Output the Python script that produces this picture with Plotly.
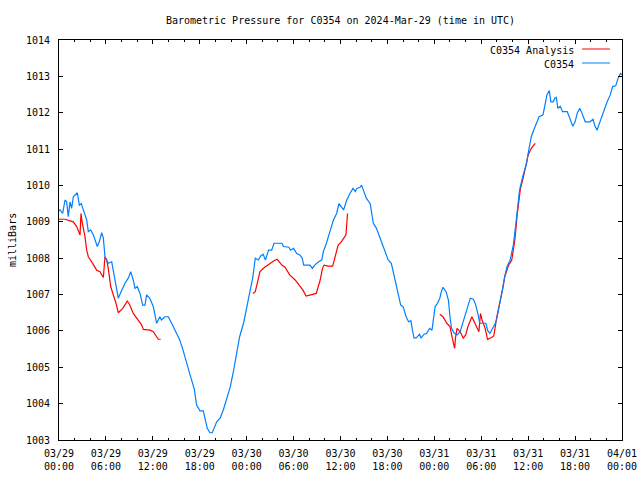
import datetime as dt
import plotly.graph_objects as go

TITLE = "Barometric Pressure for C0354 on 2024-Mar-29 (time in UTC)"
Y_TITLE = "milliBars"
START = dt.datetime(2024, 3, 29, 0, 0)

# hours since 2024-03-29 00:00 UTC, station observations
obs_hours = [
    0, 0.13, 0.47, 0.77, 0.98, 1.19, 1.41, 1.62, 1.83, 2.26,
    2.34, 2.6, 2.85, 3.11, 3.54, 3.75, 4.05, 4.39, 4.73, 4.9,
    5.15, 5.46, 5.67, 5.88, 6.1, 6.3, 6.74, 7.16, 7.58, 8.02,
    8.44, 8.86, 9.17, 9.5, 9.72, 10.01, 10.36, 10.7, 11.0, 11.2,
    11.6, 12.06, 12.49, 12.9, 13.1, 13.55, 13.98, 14.4, 15.05, 15.4,
    15.8, 16.2, 16.75, 17.3, 17.6, 18.03, 18.45, 18.96, 19.3, 19.6,
    19.82, 20.17, 20.6, 21.0, 21.4, 21.9, 22.3, 22.7, 23.1, 23.6,
    24.0, 24.4, 24.8, 25.1, 25.5, 25.8, 26.1, 26.4, 26.8, 27.2,
    27.5, 28.5, 28.7, 29.4, 29.6, 30.0, 30.4, 30.8, 31.1, 31.3,
    32.1, 32.4, 32.7, 33.2, 33.6, 33.8, 34.2, 34.7, 35.1, 35.5,
    35.8, 36.4, 36.8, 37.2, 37.6, 37.9, 38.1, 38.5, 38.7, 39.0,
    39.3, 39.8, 40.2, 40.6, 41.0, 41.4, 41.8, 42.1, 42.5, 43.0,
    43.4, 43.7, 44.0, 44.4, 44.7, 45.0, 45.2, 45.4, 45.7, 46.1,
    46.3, 46.7, 47.0, 47.4, 47.7, 47.9, 48.1, 48.4, 48.7, 48.9,
    49.1, 49.5, 49.8, 50.0, 50.2, 50.5, 50.9, 51.3, 51.7, 52.0,
    52.3, 52.6, 53.0, 53.3, 53.6, 53.8, 54.6, 54.8, 55.1, 55.5,
    55.8, 56.0, 56.4, 56.7, 57.0, 57.3, 57.7, 58.1, 58.4, 58.7,
    58.9, 59.3, 59.6, 59.8, 60.0, 60.2, 60.4, 60.7, 61.1, 61.4,
    61.9, 62.1, 62.4, 62.7, 62.9, 63.2, 63.4, 63.6, 63.8, 64.1,
    64.4, 65.0, 65.3, 65.7, 66.0, 66.3, 66.6, 66.8, 67.3, 67.9,
    68.3, 68.5, 68.8, 69.2, 69.5, 69.8, 70.1, 70.5, 70.8, 71.2,
    71.5, 71.8, 72.0,
]
obs_mb = [
    1009.3, 1009.33, 1009.23, 1009.6, 1009.55, 1009.14, 1009.55, 1009.37, 1009.69, 1009.78,
    1009.8, 1009.46, 1009.5, 1009.33, 1009.05, 1008.73, 1008.78, 1008.64, 1008.41, 1008.32,
    1008.45, 1008.7, 1008.55, 1008.04, 1007.95, 1007.86, 1007.9, 1007.4, 1006.9, 1007.12,
    1007.31, 1007.45, 1007.63, 1007.4, 1007.17, 1007.22, 1007.03, 1006.71, 1006.71, 1006.99,
    1006.9, 1006.67, 1006.21, 1006.39, 1006.3, 1006.39, 1006.39, 1006.21, 1005.93, 1005.77,
    1005.52, 1005.2, 1004.8, 1004.4, 1003.96, 1003.8, 1003.8, 1003.32, 1003.2, 1003.2,
    1003.32, 1003.5, 1003.6, 1003.82, 1004.1, 1004.46, 1004.88, 1005.34, 1005.84, 1006.21,
    1006.67, 1007.03, 1007.49, 1008.0, 1007.95, 1008.06, 1008.11, 1007.95, 1008.22, 1008.22,
    1008.41, 1008.41, 1008.32, 1008.3, 1008.22, 1008.27, 1008.13, 1008.09, 1008.0, 1007.81,
    1007.81, 1007.72, 1007.81, 1007.9, 1007.95, 1008.18, 1008.41, 1008.77, 1009.05, 1009.23,
    1009.5, 1009.33, 1009.6, 1009.78, 1009.92, 1009.83, 1009.92, 1009.95, 1010.01, 1009.83,
    1009.65, 1009.5, 1008.96, 1008.82, 1008.59, 1008.36, 1008.09, 1007.95, 1007.86, 1007.4,
    1007.03, 1006.71, 1006.67, 1006.39, 1006.25, 1006.28, 1006.02, 1005.81, 1005.81, 1005.91,
    1005.81, 1005.91, 1005.93, 1006.07, 1006.02, 1006.35, 1006.67, 1006.76, 1006.9, 1007.08,
    1007.2, 1007.08, 1006.85, 1006.39, 1006.07, 1005.95, 1005.89, 1005.98, 1006.25, 1006.48,
    1006.71, 1006.9, 1006.87, 1006.71, 1006.44, 1006.21, 1006.21, 1006.02, 1005.93, 1006.07,
    1006.21, 1006.35, 1006.76, 1007.12, 1007.49, 1007.77, 1007.95, 1008.36, 1008.9, 1009.46,
    1009.87, 1010.24, 1010.43, 1010.61, 1010.88, 1011.11, 1011.34, 1011.52, 1011.75, 1011.89,
    1011.94, 1012.21, 1012.49, 1012.61, 1012.3, 1012.3, 1012.4, 1012.42, 1012.12, 1012.18,
    1012.03, 1012.03, 1011.85, 1011.63, 1011.75, 1012.0, 1012.12, 1012.03, 1011.75, 1011.75,
    1011.82, 1011.66, 1011.52, 1011.75, 1011.98, 1012.12, 1012.3, 1012.49, 1012.72, 1012.74,
    1012.95, 1013.08, 1013.04,
]

# analysis series (None = gap)
ana_hours = [
    0, 0.77, 1.83, 2.26, 2.69, 2.81, 2.98, 3.32, 3.54, 3.75,
    4.18, 4.82, 5.24, 5.67, 5.88, 6.1, 6.3, 6.61, 6.94, 7.29,
    7.58, 8.15, 8.73, 8.99, 9.5, 9.94, 10.58, 10.78, 11.64, 12.06,
    12.7, 13.0, 18.0,
    24.8, 25.1, 25.4, 25.7, 26.3, 27.0, 27.5, 27.9, 28.5, 28.9,
    29.5, 30.2, 30.7, 31.2, 31.6, 32.3, 32.9, 33.4, 33.7, 33.9,
    34.4, 35.0, 35.3, 35.7, 36.1, 36.7, 36.9, 42.0,
    48.7, 49.1, 49.6, 50.0, 50.3, 50.6, 50.7, 50.9, 51.3, 51.7,
    52.0, 52.3, 52.8, 53.2, 53.7, 53.9, 54.1, 54.5, 54.8, 55.3,
    55.6, 56.0, 56.4, 56.8, 57.0, 57.5, 57.9, 58.3, 58.6, 58.8,
    59.0, 59.4, 59.8, 60.0, 60.4, 60.9,
]
ana_mb = [
    1009.07, 1009.07, 1009.0, 1008.87, 1008.64, 1009.23, 1008.96, 1008.6, 1008.22, 1008.04,
    1007.9, 1007.67, 1007.63, 1007.47, 1008.04, 1007.95, 1007.72, 1007.22, 1006.99, 1006.76,
    1006.5, 1006.62, 1006.82, 1006.74, 1006.48, 1006.35, 1006.16, 1006.04, 1006.02, 1005.98,
    1005.77, 1005.77, None,
    1007.03, 1007.08, 1007.35, 1007.63, 1007.75, 1007.86, 1007.93, 1007.97, 1007.81, 1007.75,
    1007.54, 1007.4, 1007.26, 1007.12, 1006.96, 1006.99, 1007.03, 1007.4, 1007.72, 1007.81,
    1007.78, 1007.78, 1008.04, 1008.36, 1008.45, 1008.64, 1009.23, None,
    1006.46, 1006.39, 1006.21, 1006.12, 1005.8, 1005.52, 1005.8, 1006.07, 1005.98, 1005.8,
    1005.89, 1006.12, 1006.39, 1006.21, 1005.98, 1006.48, 1006.3, 1006.07, 1005.77, 1005.82,
    1005.86, 1006.39, 1006.76, 1007.22, 1007.49, 1007.81, 1007.95, 1008.5, 1009.2, 1009.6,
    1009.9, 1010.24, 1010.61, 1010.84, 1011.02, 1011.16,
]

tick_hours = list(range(0, 73, 6))
tick_text = [
    "03/29<br>00:00", "03/29<br>06:00", "03/29<br>12:00", "03/29<br>18:00",
    "03/30<br>00:00", "03/30<br>06:00", "03/30<br>12:00", "03/30<br>18:00",
    "03/31<br>00:00", "03/31<br>06:00", "03/31<br>12:00", "03/31<br>18:00",
    "04/01<br>00:00",
]
legend_names = ["C0354 Analysis", "C0354"]
colors = ["#ff0000", "#0080ff"]

def to_time(hours):
    return [START + dt.timedelta(hours=h) for h in hours]

FONT = "DejaVu Sans Mono"
fig = go.Figure()
fig.add_trace(go.Scatter(x=to_time(ana_hours), y=ana_mb, mode="lines",
                         line=dict(color=colors[0], width=1.2), connectgaps=False,
                         name=legend_names[0], showlegend=False))
fig.add_trace(go.Scatter(x=to_time(obs_hours), y=obs_mb, mode="lines",
                         line=dict(color=colors[1], width=1.2),
                         name=legend_names[1], showlegend=False))

W, H = 640, 480
L, R, T, B = 59, 18, 40, 40
pw, ph = W - L - R, H - T - B

def px(x):
    return (x - L) / pw

def py(y):
    return 1 - (y - T) / ph

annotations = []
shapes = []
for i, (name, col) in enumerate(zip(legend_names, colors)):
    yy = 50 + 14 * i
    annotations.append(dict(text=name, xref="paper", yref="paper", x=px(576), y=py(yy),
                            xanchor="right", yanchor="middle", showarrow=False,
                            font=dict(family=FONT, size=10, color="black")))
    shapes.append(dict(type="line", xref="paper", yref="paper", x0=px(582), x1=px(610),
                       y0=py(yy - 1), y1=py(yy - 1), line=dict(color=col, width=1)))
annotations.append(dict(text=Y_TITLE, xref="paper", yref="paper", x=px(12), y=0.5,
                        xanchor="center", yanchor="middle", textangle=-90, showarrow=False,
                        font=dict(family=FONT, size=10, color="black")))

fig.update_layout(
    width=W, height=H,
    margin=dict(l=L, r=R, t=T, b=B, pad=0, autoexpand=False),
    paper_bgcolor="white", plot_bgcolor="white",
    font=dict(family=FONT, size=10, color="black"),
    title=dict(text=TITLE, x=0.5, xref="paper", y=1 - 20 / H, yanchor="middle",
               font=dict(family=FONT, size=10, color="black")),
    annotations=annotations, shapes=shapes,
    showlegend=False,
)
fig.update_xaxes(
    type="date", range=[START, START + dt.timedelta(hours=72)], automargin=False,
    tickmode="array", tickvals=to_time(tick_hours), ticktext=tick_text,
    ticks="inside", ticklen=4, tickcolor="black", ticklabelstandoff=4,
    minor=dict(ticks="inside", ticklen=2, tickcolor="black", tickmode="linear",
               tick0=START, dtick=2 * 3600 * 1000, showgrid=False),
    showgrid=False, zeroline=False, showline=True, linecolor="black", linewidth=1,
    mirror="allticks", tickfont=dict(family=FONT, size=10, color="black"),
)
fig.update_yaxes(
    range=[1003, 1014], tickmode="linear", tick0=1003, dtick=1, automargin=False,
    ticks="inside", ticklen=4, tickcolor="black", ticklabelstandoff=6,
    showgrid=False, zeroline=False, showline=True, linecolor="black", linewidth=1,
    mirror="allticks", tickfont=dict(family=FONT, size=10, color="black"),
)
fig.write_html("out.html", config={"displayModeBar": False},
               post_script="document.body.style.margin='0px';")
